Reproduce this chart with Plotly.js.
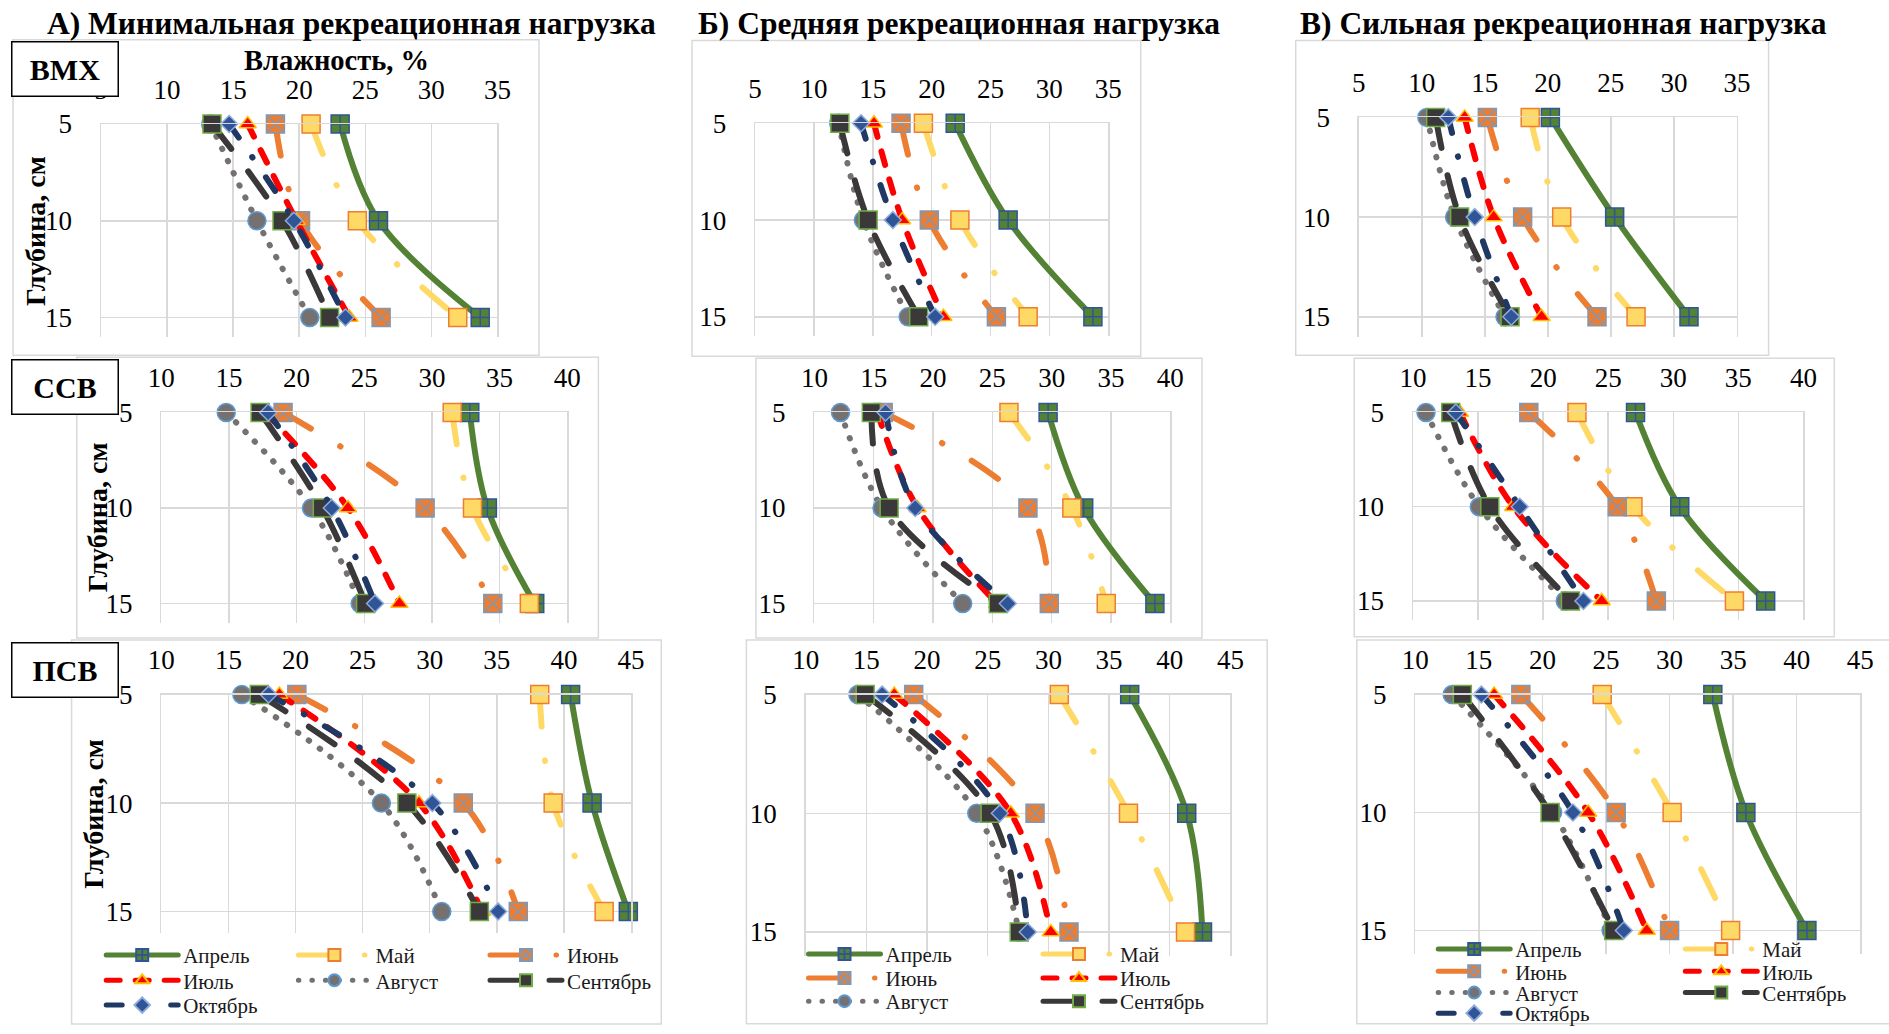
<!DOCTYPE html>
<html>
<head>
<meta charset="utf-8">
<script src="https://cdn.plot.ly/plotly-3.0.1.min.js"></script>
<style>
html, body { margin: 0; padding: 0; background: #ffffff; overflow: hidden; }
#chart { width: 1889px; height: 1034px; }
.js-line { stroke-linecap: round; stroke-linejoin: round; }
</style>
</head>
<body>
<div id="chart"></div>
<script>
// ---------- DATA ----------
const months = ['Апрель', 'Май', 'Июнь', 'Июль', 'Август', 'Сентябрь', 'Октябрь'];
const depths = [5, 10, 15];
const depthTicks = [5, 10, 15];
const panelTitles = ['А) Минимальная рекреационная нагрузка', 'Б) Средняя рекреационная нагрузка', 'В) Сильная рекреационная нагрузка'];
const zoneLabels = ['ВМХ', 'ССВ', 'ПСВ'];
const xTitle = 'Влажность, %';
const yTitle = 'Глубина, см';

// moisture, % at depths 5/10/15 cm; rows = Апрель..Октябрь
const vmxMin = [[23.1, 26.0, 33.7], [20.9, 24.4, 32.0], [18.2, 20.1, 26.2], [16.1, 19.8, 23.8], [13.3, 16.8, 20.8], [13.4, 18.7, 22.3], [14.7, 19.6, 23.5]];
const vmxMid = [[22.0, 26.5, 33.7], [19.3, 22.4, 28.2], [17.4, 19.8, 25.5], [15.1, 17.5, 21.0], [12.1, 14.2, 18.0], [12.2, 14.6, 18.9], [14.0, 16.7, 20.3]];
const vmxMax = [[20.2, 25.3, 31.2], [18.6, 21.1, 27.0], [15.2, 18.0, 23.9], [13.4, 15.7, 19.5], [10.4, 12.6, 16.6], [11.1, 13.0, 17.0], [12.1, 14.2, 17.1]];
const ssvMin = [[32.8, 34.1, 37.6], [31.5, 33.0, 37.2], [19.0, 29.5, 34.5], [17.7, 23.8, 27.6], [14.8, 21.1, 24.7], [17.3, 21.9, 25.1], [17.9, 22.6, 25.8]];
const ssvMid = [[29.7, 32.7, 38.7], [26.4, 31.7, 34.6], [15.8, 28.0, 29.8], [15.3, 18.7, 25.4], [12.2, 15.7, 22.5], [14.8, 16.3, 25.5], [16.0, 18.5, 26.3]];
const ssvMax = [[27.1, 30.5, 37.1], [22.6, 26.9, 34.7], [18.9, 25.7, 28.7], [13.6, 17.7, 24.5], [11.0, 15.1, 21.7], [12.9, 15.9, 22.1], [13.3, 18.2, 23.1]];
const psvMin = [[40.5, 42.1, 44.8], [38.2, 39.2, 43.0], [20.1, 32.5, 36.6], [18.8, 29.2, 33.9], [16.0, 26.4, 30.9], [17.3, 28.3, 33.7], [18.0, 30.2, 35.1]];
const psvMid = [[36.7, 41.4, 42.7], [30.9, 36.6, 41.3], [18.9, 28.9, 31.7], [17.3, 26.9, 30.2], [14.3, 24.1, 27.6], [14.9, 25.2, 27.6], [16.3, 26.0, 28.3]];
const psvMax = [[33.4, 36.0, 40.8], [24.7, 30.2, 34.8], [18.3, 25.8, 30.0], [16.2, 23.6, 28.2], [12.9, 20.8, 25.4], [13.7, 20.6, 25.6], [15.2, 22.4, 26.4]];

// ---------- STYLE / LAYOUT ----------
const W = 1889, H = 1034;
const FONT = 'Liberation Serif, Times New Roman, serif';

const styles = [
  { color: '#548235', dash: 'solid',                 symbol: 'square-cross', size: 18, mfill: '#548235', mline: '#2F5597' },
  { color: '#FFD966', dash: '32px,34px,0.5px,34px',  symbol: 'square',       size: 18, mfill: '#FFD966', mline: '#ED7D31' },
  { color: '#ED7D31', dash: '32px,34px,0.5px,34px',  symbol: 'square-x',     size: 18, mfill: '#ED7D31', mline: '#8497B0' },
  { color: '#FF0000', dash: '14px,15px',             symbol: 'triangle-up',  size: 15, mfill: '#FF0000', mline: '#FFC000' },
  { color: '#767171', dash: '0.5px,13px',            symbol: 'circle',       size: 18, mfill: '#767171', mline: '#5B9BD5' },
  { color: '#3A3838', dash: '31px,28px',             symbol: 'square',       size: 18, mfill: '#3A3838', mline: '#70AD47' },
  { color: '#203864', dash: '16px,24px,0.5px,24px',  symbol: 'diamond',      size: 13, mfill: '#2F5597', mline: '#8FAADC' }
];

// pixel geometry of each plot area: x-range ends and the pixel rows of depth 5 and 15
const panels = [
  { data: vmxMin, xr: [5, 35],  xp: [101.0, 497.4],  yp: [125.0, 320.0] },
  { data: vmxMid, xr: [5, 35],  xp: [755.1, 1108.2], yp: [124.3, 319.3] },
  { data: vmxMax, xr: [5, 35],  xp: [1358.8, 1736.9], yp: [118.3, 319.3] },
  { data: ssvMin, xr: [10, 40], xp: [161.3, 567.2],  yp: [415.7, 608.3] },
  { data: ssvMid, xr: [10, 40], xp: [814.4, 1170.3], yp: [415.7, 608.3] },
  { data: ssvMax, xr: [10, 40], xp: [1413.0, 1803.4], yp: [415.7, 605.7] },
  { data: psvMin, xr: [10, 45], xp: [161.3, 631.0],  yp: [700.0, 918.7] },
  { data: psvMid, xr: [10, 45], xp: [805.7, 1230.4], yp: [700.0, 939.3] },
  { data: psvMax, xr: [10, 45], xp: [1415.3, 1860.3], yp: [700.0, 937.7] }
];

const frames = [
  [13, 40, 539, 358], [692, 40.7, 1140.7, 359], [1295.7, 40.7, 1768.6, 358],
  [76.8, 360, 598.4, 643], [755.9, 361, 1202, 643], [1354.2, 361, 1834.3, 641.7],
  [71.6, 645, 661.3, 1032], [746.4, 645, 1267.2, 1031.7], [1356.8, 645, 1900, 1031.7]
];

const legendSpecs = [
  { panel: 6, cols: [106.2, 298.4, 490], rows: [962.7, 988.3, 1013.3], n: 7 },
  { panel: 7, cols: [808.5, 1043], rows: [961.7, 986, 1009.3], n: 6 },
  { panel: 8, cols: [1438.2, 1685.3], rows: [956.7, 979.3, 1000.7, 1021.7], n: 7 }
];

const px = v => v / W;
const py = v => 1 - v / H;

const layout = {
  width: W, height: H,
  margin: { l: 0, r: 0, t: 0, b: 0, pad: 0 },
  paper_bgcolor: '#ffffff',
  plot_bgcolor: 'rgba(0,0,0,0)',
  font: { family: FONT, color: '#000000' },
  shapes: [],
  annotations: []
};

// legends: one per entry so the grid of entries matches the reference
let legendCount = 0;
const legendOf = {};
legendSpecs.forEach(spec => {
  for (let m = 0; m < spec.n; m++) {
    const c = m % spec.cols.length, r = Math.floor(m / spec.cols.length);
    legendCount++;
    const id = legendCount === 1 ? 'legend' : 'legend' + legendCount;
    layout[id] = {
      x: px(spec.cols[c] - 5), y: py(spec.rows[r]), xanchor: 'left', yanchor: 'middle',
      orientation: 'v', bgcolor: 'rgba(0,0,0,0)', borderwidth: 0,
      itemwidth: 72, itemsizing: 'constant',
      font: { family: FONT, size: 21, color: '#1a1a1a' }
    };
    legendOf[spec.panel + '-' + m] = id;
  }
});

const traces = [];
panels.forEach((p, i) => {
  const n = i === 0 ? '' : String(i + 1);
  const yBot = p.yp[0] + 1.1 * (p.yp[1] - p.yp[0]);
  layout['xaxis' + n] = {
    domain: [px(p.xp[0]), px(p.xp[1])], range: p.xr, anchor: 'y' + n, side: 'top',
    tick0: 0, dtick: 5, showgrid: true, gridcolor: '#D9D9D9', gridwidth: 1.5, zeroline: false,
    showline: true, linecolor: '#D9D9D9', linewidth: 1.5, mirror: false,
    ticks: 'outside', ticklen: 13, tickcolor: 'rgba(0,0,0,0)',
    tickfont: { family: FONT, size: 27, color: '#000000' }, fixedrange: true
  };
  layout['yaxis' + n] = {
    domain: [py(yBot), py(p.yp[0])], range: [16, 5], anchor: 'x' + n,
    tickmode: 'array', tickvals: depthTicks, ticktext: depthTicks.map(String),
    showgrid: true, gridcolor: '#D9D9D9', gridwidth: 1.5, zeroline: false,
    showline: true, linecolor: '#D9D9D9', linewidth: 1.5, mirror: true,
    ticks: 'outside', ticklen: 22, tickcolor: 'rgba(0,0,0,0)',
    tickfont: { family: FONT, size: 27, color: '#000000' }, fixedrange: true
  };
  months.forEach((name, m) => {
    const s = styles[m];
    const key = i + '-' + m;
    const tr = {
      type: 'scatter', mode: 'lines+markers', name: name,
      x: p.data[m], y: depths,
      xaxis: 'x' + n, yaxis: 'y' + n,
      line: { color: s.color, width: 6, dash: s.dash, shape: 'spline', smoothing: 1 },
      marker: { symbol: s.symbol, size: s.size, color: s.mfill, line: { color: s.mline, width: 1.5 } },
      cliponaxis: false,
      showlegend: key in legendOf,
      hoverinfo: 'skip'
    };
    if (key in legendOf) tr.legend = legendOf[key];
    traces.push(tr);
  });
});

// chart-area frames
frames.forEach(f => {
  layout.shapes.push({
    type: 'rect', xref: 'paper', yref: 'paper', layer: 'below',
    x0: px(f[0]), x1: px(f[2]), y0: py(f[3]), y1: py(f[1]),
    line: { color: '#D9D9D9', width: 1.5 }, fillcolor: 'rgba(0,0,0,0)'
  });
});

// panel titles
const titleX = [351.6, 958.7, 1563.7];
panelTitles.forEach((t, k) => {
  layout.annotations.push({
    text: '<b>' + t + '</b>', xref: 'paper', yref: 'paper', x: px(titleX[k]), y: py(24),
    xanchor: 'center', yanchor: 'middle', showarrow: false,
    font: { family: FONT, size: 31.5, color: '#000000' }
  });
});

// x-axis title (first panel only)
layout.annotations.push({
  text: '<b>' + xTitle + '</b>', xref: 'paper', yref: 'paper', x: px(336), y: py(61),
  xanchor: 'center', yanchor: 'middle', showarrow: false,
  font: { family: FONT, size: 28.5, color: '#000000' }
});

// y-axis titles (left column)
[[34.7, 233], [97.6, 521.7], [93.2, 820]].forEach(pos => {
  layout.annotations.push({
    text: '<b>' + yTitle + '</b>', xref: 'paper', yref: 'paper', x: px(pos[0]), y: py(pos[1]),
    xanchor: 'center', yanchor: 'middle', showarrow: false, textangle: -90,
    font: { family: FONT, size: 28, color: '#000000' }
  });
});

// zone boxes
const boxCenters = [69.5, 390.3, 675];
zoneLabels.forEach((z, k) => {
  layout.annotations.push({
    text: '<b>' + z + '</b>', xref: 'paper', yref: 'paper', x: px(65), y: py(boxCenters[k]),
    xanchor: 'center', yanchor: 'middle', showarrow: false,
    width: 105, height: 53, align: 'center', valign: 'middle',
    bgcolor: '#ffffff', bordercolor: '#000000', borderwidth: 1.5, borderpad: 0,
    font: { family: FONT, size: 30, color: '#000000' }
  });
});

Plotly.newPlot('chart', traces, layout, { staticPlot: true, displayModeBar: false });
</script>
</body>
</html>
